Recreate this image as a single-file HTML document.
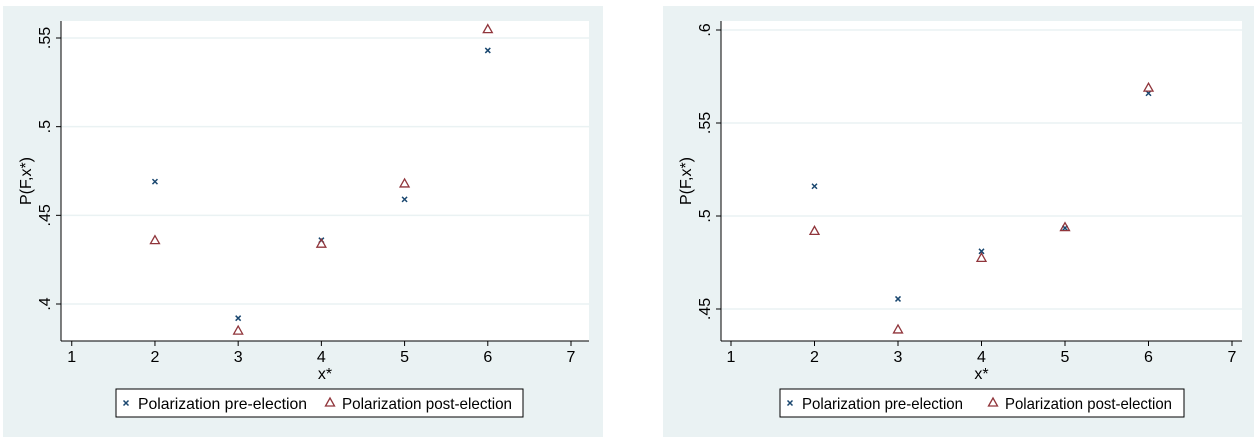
<!DOCTYPE html>
<html><head><meta charset="utf-8"><style>
html,body{margin:0;padding:0;background:#fff;}
svg{display:block;font-family:"Liberation Sans",Arial,sans-serif;}
</style></head><body>
<svg id="chart" width="1254" height="438" viewBox="0 0 1254 438"></svg>
<script>
const xCategories = [2, 3, 4, 5, 6];
const xTicks = [1, 2, 3, 4, 5, 6, 7];
const leftPre = [0.469, 0.392, 0.436, 0.459, 0.543];
const leftPost = [0.436, 0.385, 0.434, 0.468, 0.555];
const leftYTicks = [0.4, 0.45, 0.5, 0.55];
const leftYLabels = [".4", ".45", ".5", ".55"];
const rightPre = [0.516, 0.4554, 0.481, 0.4935, 0.566];
const rightPost = [0.492, 0.439, 0.4775, 0.494, 0.569];
const rightYTicks = [0.45, 0.5, 0.55, 0.6];
const rightYLabels = [".45", ".5", ".55", ".6"];

const NS = "http://www.w3.org/2000/svg";
const svg = document.getElementById("chart");
function mk(tag, attrs, parent) {
  const e = document.createElementNS(NS, tag);
  for (const k in attrs) e.setAttribute(k, attrs[k]);
  (parent || svg).appendChild(e);
  return e;
}
const BLUE = "#1a476f", RED = "#90353b", BG = "#eaf2f3";

function panel(cfg, pre, post, yTicks, yLabels, name) {
  const g = mk("g", {});
  
  
  const bg = mk("rect", {x: cfg.px, y: 6, width: cfg.pw, height: 431, fill: BG}, g);
  
  
  const plot = mk("rect", {x: cfg.ax, y: 21, width: cfg.ar - cfg.ax, height: 320, fill: "#fff"}, g);
  
  
  const xs = v => cfg.x1 + (v - 1) * (cfg.x7 - cfg.x1) / 6;
  const ys = v => cfg.yA + (v - cfg.vA) * (cfg.yB - cfg.yA) / (cfg.vB - cfg.vA);
  yTicks.forEach((t, i) => {
    const y = ys(t);
    const gl = mk("line", {x1: cfg.ax, x2: cfg.ar, y1: y, y2: y, stroke: BG, "stroke-width": 1.5}, g);
    
    
    const tk = mk("line", {x1: cfg.ax - 5, x2: cfg.ax, y1: y, y2: y, stroke: "#000"}, g);
    
    
    const tl = mk("text", {x: cfg.ax - 11, y: y, "font-size": 16, "text-anchor": "middle", transform: `rotate(-90 ${cfg.ax - 11} ${y})`}, g);
    tl.textContent = yLabels[i];
    
    
  });
  xTicks.forEach(t => {
    const x = xs(t);
    const tk = mk("line", {x1: x, x2: x, y1: 341, y2: 346, stroke: "#000"}, g);
    
    
    const tl = mk("text", {x: x, y: 362, "font-size": 16, "text-anchor": "middle"}, g);
    tl.textContent = t;
    
    
  });
  const ya = mk("line", {x1: cfg.ax, x2: cfg.ax, y1: 21, y2: 341, stroke: "#000"}, g);
  
  
  const xa = mk("line", {x1: cfg.ax, x2: cfg.ar, y1: 341, y2: 341, stroke: "#000"}, g);
  
  
  const xt = mk("text", {x: (cfg.ax + cfg.ar) / 2, y: 379, "font-size": 16, "text-anchor": "middle"}, g);
  xt.textContent = "x*";
  
  
  const yt = mk("text", {x: cfg.ax - 30, y: 181, "font-size": 16, "text-anchor": "middle", transform: `rotate(-90 ${cfg.ax - 30} 181)`}, g);
  yt.textContent = "P(F,x*)";
  
  
  xCategories.forEach((c, i) => {
    const x = xs(c), y = ys(pre[i]);
    const m = mk("path", {d: `M${x-2.5},${y-2.5}L${x+2.5},${y+2.5}M${x-2.5},${y+2.5}L${x+2.5},${y-2.5}`, stroke: BLUE, "stroke-width": 1.5}, g);
    
    
  });
  xCategories.forEach((c, i) => {
    const x = xs(c), y = ys(post[i]);
    const m = mk("path", {d: `M${x},${y-4.5}L${x+4.5},${y+3.5}L${x-4.5},${y+3.5}Z`, stroke: RED, "stroke-width": 1.3, fill: "none"}, g);
    
    
  });
  const lg = mk("g", {}, g);
  
  
  mk("rect", {x: cfg.lx, y: 389, width: cfg.lw, height: 28, fill: "#fff", stroke: "#000"}, lg);
  const mx = cfg.lx + 10;
  mk("path", {d: `M${mx-2.5},${400.5}L${mx+2.5},${405.5}M${mx-2.5},${405.5}L${mx+2.5},${400.5}`, stroke: BLUE, "stroke-width": 1.5}, lg);
  const t1 = mk("text", {x: cfg.lx + 22, y: 409, "font-size": 16, textLength: cfg.t1, lengthAdjust: "spacingAndGlyphs"}, lg);
  t1.textContent = "Polarization pre-election";
  
  
  const tx = cfg.lx + cfg.tri;
  mk("path", {d: `M${tx},${398}L${tx+4.5},${406}L${tx-4.5},${406}Z`, stroke: RED, "stroke-width": 1.3, fill: "none"}, lg);
  const t2 = mk("text", {x: tx + 12, y: 409, "font-size": 16, textLength: cfg.t2, lengthAdjust: "spacingAndGlyphs"}, lg);
  t2.textContent = "Polarization post-election";
  
  
}

panel({px: 3, pw: 600, ax: 61, ar: 589, x1: 71.75, x7: 571, yA: 304, vA: 0.4, yB: 38, vB: 0.55, lx: 116, lw: 407, tri: 214, t1: 169, t2: 170},
  leftPre, leftPost, leftYTicks, leftYLabels, "left-panel");
panel({px: 663, pw: 591, ax: 721, ar: 1242, x1: 731, x7: 1232, yA: 309, vA: 0.45, yB: 30, vB: 0.6, lx: 780, lw: 404, tri: 213, t1: 161, t2: 167},
  rightPre, rightPost, rightYTicks, rightYLabels, "right-panel");
</script>
</body></html>
